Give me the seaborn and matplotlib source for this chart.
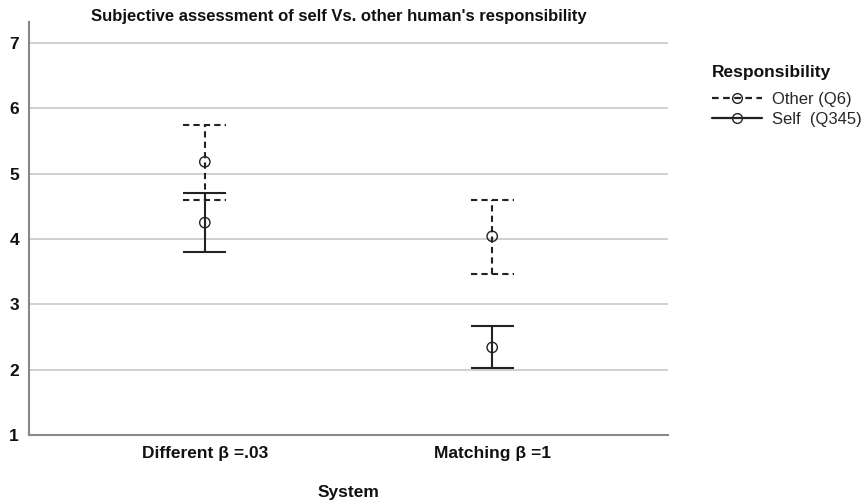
import matplotlib
matplotlib.use("Agg")
import matplotlib.pyplot as plt
from matplotlib.lines import Line2D
import pandas as pd
import seaborn as sns

sns.set_theme(style="white")
plt.rcParams["font.family"] = ["Liberation Sans", "DejaVu Sans"]

# ---- data ----
SYSTEMS = ["Different β =.03", "Matching β =1"]
GROUPS = ["Other (Q6)", "Self  (Q345)"]
OTHER_MEAN = [5.18, 4.04]
OTHER_LOW = [4.60, 3.47]
OTHER_HIGH = [5.74, 4.60]
SELF_MEAN = [4.25, 2.34]
SELF_LOW = [3.80, 2.02]
SELF_HIGH = [4.70, 2.67]

rows = []
for i, s in enumerate(SYSTEMS):
    rows.append(dict(System=s, Responsibility=GROUPS[0], mean=OTHER_MEAN[i],
                     low=OTHER_LOW[i], high=OTHER_HIGH[i]))
    rows.append(dict(System=s, Responsibility=GROUPS[1], mean=SELF_MEAN[i],
                     low=SELF_LOW[i], high=SELF_HIGH[i]))
df = pd.DataFrame(rows)
df["x"] = df["System"].map({s: i for i, s in enumerate(SYSTEMS)})

styles = {GROUPS[0]: (0, (3, 2)), GROUPS[1]: "-"}
DARK = "#222222"
TXT = "#111111"

fig = plt.figure(figsize=(8.68, 5), dpi=100)
ax = fig.add_axes([0.033, 0.13, 0.737, 0.826])

# horizontal grid
for yv in range(2, 8):
    ax.axhline(yv, color="#c8c8c8", lw=1.2, zorder=0)

cap = 0.075
for _, r in df.iterrows():
    ls = styles[r["Responsibility"]]
    ax.vlines(r["x"], r["low"], r["high"], colors=DARK, linestyles=ls, lw=1.5, zorder=2)
    ax.hlines([r["low"], r["high"]], r["x"] - cap, r["x"] + cap,
              colors=DARK, linestyles=ls, lw=1.5, zorder=2)

sns.scatterplot(data=df, x="x", y="mean", ax=ax, marker="o", s=55,
                facecolors="none", edgecolor=DARK, linewidth=1.0,
                legend=False, zorder=3)

ax.set_xlim(-0.613, 1.613)
ax.set_ylim(1, 7.32)
ax.set_yticks(range(1, 8))
ax.set_xticks([0, 1])
ax.set_xticklabels(SYSTEMS, fontsize=12.5, fontweight="bold", color=TXT)
ax.set_yticklabels([str(v) for v in range(1, 8)], fontsize=12.5,
                   fontweight="bold", color=TXT)
ax.tick_params(axis="y", length=0, pad=7)
ax.tick_params(axis="x", length=0, pad=8)

for side in ["top", "right"]:
    ax.spines[side].set_visible(False)
for side in ["left", "bottom"]:
    ax.spines[side].set_color("#888888")
    ax.spines[side].set_linewidth(1.5)

ax.set_xlabel("System", fontsize=12.5, fontweight="bold", labelpad=17, color=TXT)
ax.set_ylabel("")
fig.text(0.39, 0.966, "Subjective assessment of self Vs. other human's responsibility",
         ha="center", va="center", fontsize=12, fontweight="bold", color=TXT)

fig.text(0.82, 0.856, "Responsibility", ha="left", va="center",
         fontsize=12.5, fontweight="bold", color=TXT)
handles = [
    Line2D([], [], color=DARK, ls=styles[g], lw=1.6, marker="o",
           markerfacecolor="none", markeredgecolor=DARK, markersize=7)
    for g in GROUPS
]
fig.legend(handles, GROUPS, loc="upper left", bbox_to_anchor=(0.807, 0.84),
           frameon=False, fontsize=12, handlelength=3.0, handletextpad=0.6,
           labelspacing=0.3, borderpad=0.2)

fig.savefig("out.png", dpi=100)
